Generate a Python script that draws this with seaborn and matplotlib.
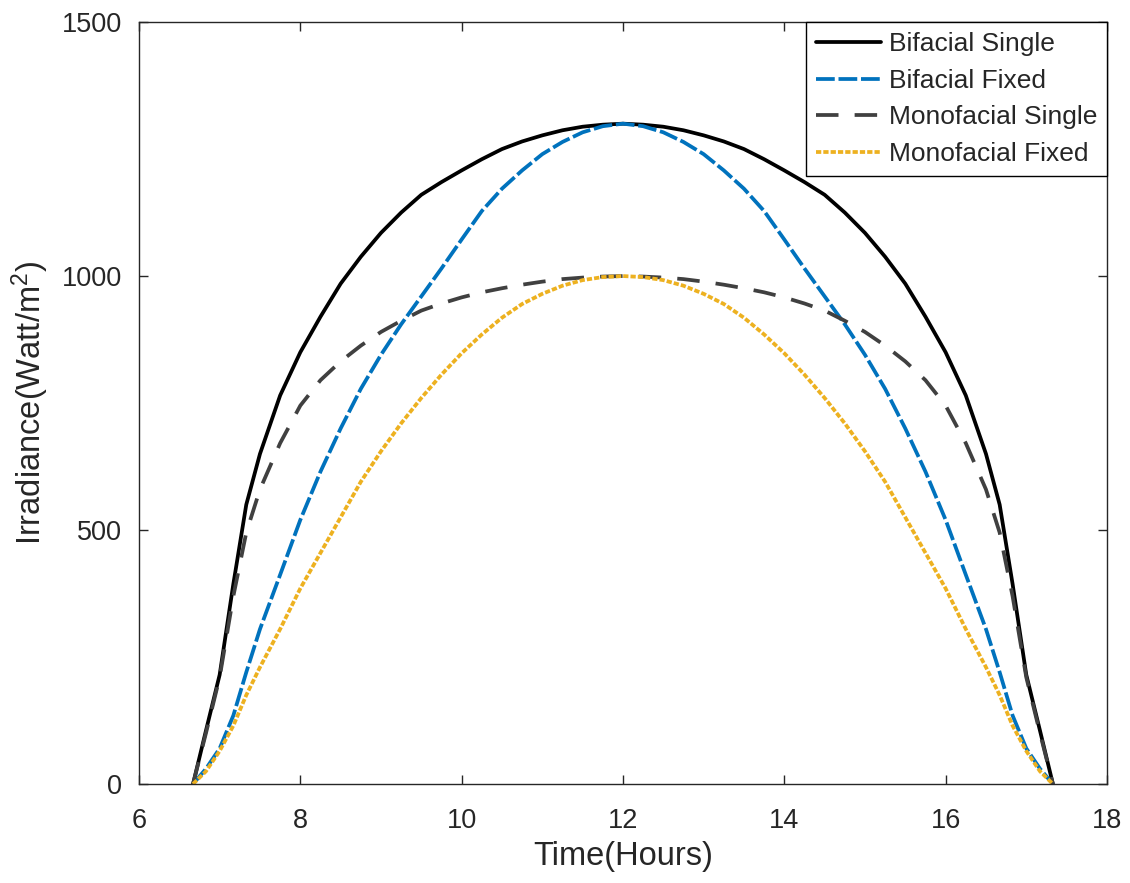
import numpy as np
import pandas as pd
import matplotlib
matplotlib.use("Agg")
import matplotlib.pyplot as plt
import seaborn as sns

# ---- data ----
time_h = [6.67, 6.83, 7.0, 7.17, 7.33, 7.5, 7.75, 8.0, 8.25, 8.5, 8.75, 9.0, 9.25, 9.5, 9.75,
          10.0, 10.25, 10.5, 10.75, 11.0, 11.25, 11.5, 11.75, 12.0,
          12.25, 12.5, 12.75, 13.0, 13.25, 13.5, 13.75, 14.0, 14.25, 14.5, 14.75, 15.0,
          15.25, 15.5, 15.75, 16.0, 16.25, 16.5, 16.67, 16.83, 17.0, 17.17, 17.33]

bifacial_single = [0, 105, 215, 394, 550, 650, 765, 850, 920, 985, 1038, 1085, 1125, 1160, 1185,
                   1208, 1230, 1250, 1265, 1277, 1287, 1294, 1298, 1300,
                   1298, 1294, 1287, 1277, 1265, 1250, 1230, 1208, 1185, 1160, 1125, 1085,
                   1038, 985, 920, 850, 765, 650, 550, 394, 215, 105, 0]

bifacial_fixed = [0, 30, 70, 135, 220, 305, 412, 520, 615, 700, 778, 845, 905, 960, 1015,
                  1072, 1128, 1172, 1208, 1240, 1264, 1283, 1295, 1300,
                  1295, 1283, 1264, 1240, 1208, 1172, 1128, 1072, 1015, 960, 905, 845,
                  778, 700, 615, 520, 412, 305, 220, 135, 70, 30, 0]

monofacial_single = [0, 100, 210, 370, 495, 580, 671, 745, 795, 832, 863, 890, 912, 932, 946,
                     958, 968, 976, 983, 989, 994, 997, 999, 1000,
                     999, 997, 994, 989, 983, 976, 968, 958, 946, 932, 912, 890,
                     863, 832, 795, 745, 671, 580, 495, 370, 210, 100, 0]

monofacial_fixed = [0, 25, 65, 115, 175, 230, 305, 385, 455, 525, 595, 655, 710, 760, 806,
                    848, 885, 918, 945, 965, 981, 992, 998, 1000,
                    998, 992, 981, 965, 945, 918, 885, 848, 806, 760, 710, 655,
                    595, 525, 455, 385, 305, 230, 175, 115, 65, 25, 0]

series_names = ["Bifacial Single", "Bifacial Fixed", "Monofacial Single", "Monofacial Fixed"]
series_values = [bifacial_single, bifacial_fixed, monofacial_single, monofacial_fixed]

x_ticks = [6, 8, 10, 12, 14, 16, 18]
y_ticks = [0, 500, 1000, 1500]

# ---- style ----
sns.set_style("white")
plt.rcParams["font.family"] = ["Liberation Sans", "DejaVu Sans"]
plt.rcParams["mathtext.default"] = "regular"

colors = {"Bifacial Single": "#000000", "Bifacial Fixed": "#0072BD",
          "Monofacial Single": "#404040", "Monofacial Fixed": "#EDB120"}
dashes = {"Bifacial Single": None, "Bifacial Fixed": (5.0, 1.0),
          "Monofacial Single": (6.0, 4.3), "Monofacial Fixed": (1.4, 0.55)}

df = pd.DataFrame({
    "Time": np.tile(time_h, len(series_names)),
    "Irradiance": np.concatenate(series_values),
    "Series": np.repeat(series_names, len(time_h)),
})

fig = plt.figure(figsize=(11.3, 8.83), dpi=100)
ax = fig.add_axes([0.123, 0.1121, 0.8566, 0.8629])

for name in series_names:
    sub = df[df["Series"] == name]
    sns.lineplot(data=sub, x="Time", y="Irradiance", ax=ax, color=colors[name],
                 linewidth=2.7, label=name, sort=False, estimator=None)
    line = ax.lines[-1]
    if dashes[name] is not None:
        line.set_dashes(dashes[name])
        line.set_dash_capstyle("butt")

ax.set_xlim(6, 18)
ax.set_ylim(0, 1500)
ax.set_xticks(x_ticks)
ax.set_yticks(y_ticks)
ax.set_xticklabels([str(v) for v in x_ticks])
ax.set_yticklabels([str(v) for v in y_ticks])

tc = "#262626"
for sp in ax.spines.values():
    sp.set_visible(True)
    sp.set_color(tc)
    sp.set_linewidth(1.0)
ax.tick_params(direction="in", length=6.5, width=1.0, colors=tc, labelsize=19.5,
               top=True, right=True, bottom=True, left=True)
ax.tick_params(axis="x", pad=17)
ax.tick_params(axis="y", pad=12)

ax.set_xlabel("Time(Hours)", fontsize=23.5, color=tc, labelpad=5)
ax.set_ylabel("Irradiance(Watt/m$^{2}$)", fontsize=23.5, color=tc, labelpad=8)

leg = ax.legend(loc="upper right", fontsize=19, frameon=True, fancybox=False,
                edgecolor="#000000", framealpha=1.0, handlelength=2.45,
                handletextpad=0.3, borderpad=0.38, labelspacing=0.48,
                borderaxespad=0.0)
leg.get_frame().set_linewidth(1.0)
for txt in leg.get_texts():
    txt.set_color(tc)

fig.savefig("out.png", dpi=100, facecolor="white")
